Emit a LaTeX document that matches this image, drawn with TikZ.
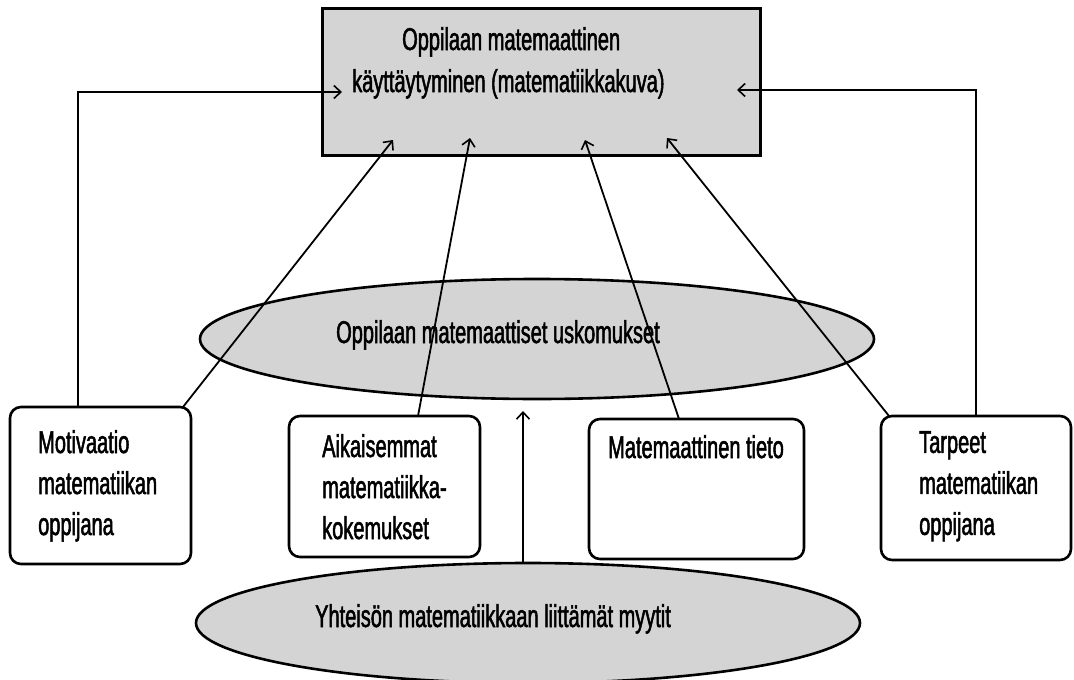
\documentclass[tikz,border=0pt]{standalone}
\usepackage{fontspec}
\setmainfont{Liberation Sans}[FakeStretch=0.635, FakeBold=1.6]
\usetikzlibrary{arrows.meta,shapes.geometric}
\begin{document}
\begin{tikzpicture}[x=1pt,y=-1pt,
  txt/.style={font=\fontsize{31.5}{41}\selectfont, inner sep=0pt, anchor=base west},
  topbox/.style={draw, line width=3pt, fill=black!17, inner sep=0pt},
  rbox/.style={draw, line width=2.6pt, rounded corners=11pt, fill=white, inner sep=0pt},
  oval/.style={ellipse, draw, line width=2.6pt, fill=black!17, inner sep=0pt},
  arr/.style={line width=1.8pt, -{Straight Barb[length=7pt,width=13pt,line width=1.6pt]}}
]
\useasboundingbox (0,0) rectangle (1074,680);
\clip (0,0) rectangle (1074,680);

% top box
\node[topbox, minimum width=438pt, minimum height=147pt] (top) at (541,81.5) {};
\node[txt] (top1) at (402,50) {Oppilaan matemaattinen};
\node[txt] (top2) at (352,92) {käyttäytyminen (matematiikkakuva)};

% middle ellipse
\node[oval, minimum width=674pt, minimum height=120pt] (usk) at (537,339) {};
\node[txt] (uskt) at (336,343) {Oppilaan matemaattiset uskomukset};

% bottom ellipse
\node[oval, minimum width=664pt, minimum height=120pt] (myy) at (528,623) {};
\node[txt] (myyt) at (315,627) {Yhteisön matematiikkaan liittämät myytit};

% boxes
\node[rbox, minimum width=181pt, minimum height=157pt] (mot) at (100.5,485.5) {};
\node[txt, align=left, anchor=north west] (mott) at (38,430) {Motivaatio\\matematiikan\\oppijana};

\node[rbox, minimum width=191pt, minimum height=141pt] (aik) at (384.5,486.5) {};
\node[txt, align=left, anchor=north west] (aikt) at (322,434) {Aikaisemmat\\matematiikka-\\kokemukset};

\node[rbox, minimum width=215pt, minimum height=140pt] (tie) at (696.5,489) {};
\node[txt] (tiet) at (608,458) {Matemaattinen tieto};

\node[rbox, minimum width=190pt, minimum height=144pt] (tar) at (976,488) {};
\node[txt, align=left, anchor=north west] (tart) at (919,431) {Tarpeet\\matematiikan\\oppijana};

% connector end points
\coordinate (motL) at (78,407);
\coordinate (motR) at (183,407);
\coordinate (aikT) at (418,416);
\coordinate (tieT) at (679,419);
\coordinate (tarL) at (889,416);
\coordinate (tarR) at (976,416);
\coordinate (myyT) at (523,563);
\coordinate (inL) at (342,92);
\coordinate (inR) at (737,90);
\coordinate (in1) at (393,140);
\coordinate (in2) at (470,138);
\coordinate (in3) at (585,140);
\coordinate (in4) at (667,138);
\coordinate (uskB) at (523,411);

\draw[arr] (motL) |- (inL);
\draw[arr] (tarR) |- (inR);
\draw[arr] (motR) -- (in1);
\draw[arr] (aikT) -- (in2);
\draw[arr] (tieT) -- (in3);
\draw[arr] (tarL) -- (in4);
\draw[arr, line width=1.5pt] (myyT) -- (uskB);
\end{tikzpicture}
\end{document}
